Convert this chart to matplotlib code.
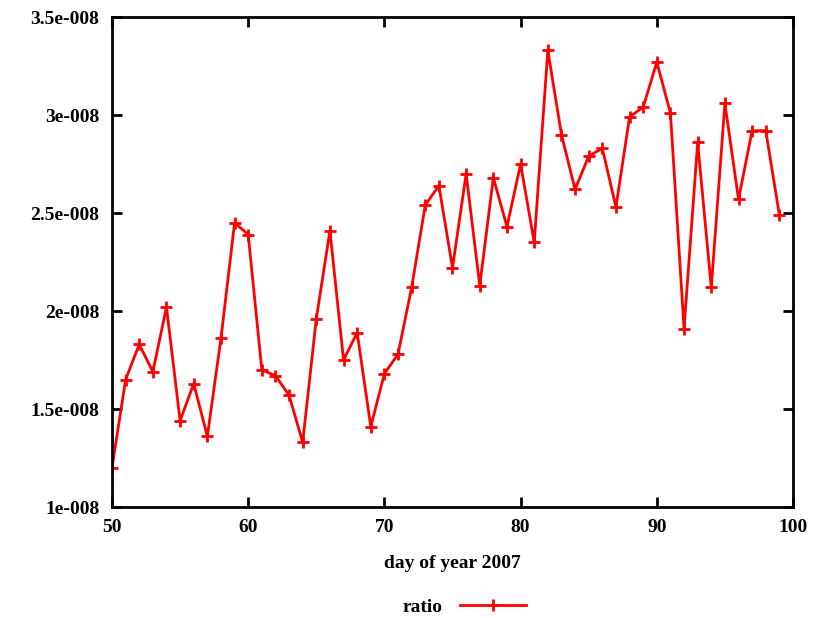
import numpy as np
import matplotlib
matplotlib.use("Agg")
import matplotlib.pyplot as plt
from matplotlib.ticker import FuncFormatter

# day of year and ratio values (units of 1e-8)
days = list(range(50, 100))
ratio = [1.20, 1.65, 1.83, 1.69, 2.02, 1.44, 1.63, 1.36, 1.86, 2.45,
         2.39, 1.70, 1.67, 1.57, 1.33, 1.96, 2.41, 1.75, 1.89, 1.41,
         1.68, 1.78, 2.12, 2.54, 2.64, 2.22, 2.70, 2.13, 2.68, 2.43,
         2.75, 2.35, 3.33, 2.90, 2.62, 2.79, 2.83, 2.53, 2.99, 3.04,
         3.27, 3.01, 1.91, 2.86, 2.12, 3.06, 2.57, 2.92, 2.92, 2.49]
ratio = np.array(ratio) * 1e-8

plt.rcParams['font.family'] = ['Liberation Serif', 'DejaVu Serif']
plt.rcParams['font.weight'] = 'bold'
plt.rcParams['font.size'] = 14

fig = plt.figure(figsize=(8.2, 6.18), dpi=100)
ax = fig.add_axes([112/820, 111/618, (793-112)/820, (507-17)/618])

line, = ax.plot(days, ratio, color='red', linewidth=2, marker='+',
                markersize=9, markeredgewidth=2, label='ratio')

ax.set_xlim(50, 100)
ax.set_ylim(1e-8, 3.5e-8)
ax.set_xticks(np.arange(50, 101, 10))
ax.set_yticks(np.arange(1e-8, 3.51e-8, 0.5e-8))


def fmt(v, pos):
    m = v / 1e-8
    s = ('%g' % round(m, 2))
    return s + 'e-008'


ax.yaxis.set_major_formatter(FuncFormatter(fmt))
ax.tick_params(direction='in', length=7, width=2, top=True, right=True,
               labelsize=14, pad=9)
for sp in ax.spines.values():
    sp.set_linewidth(2)

ax.set_xlabel('day of year 2007', fontsize=14, fontweight='bold', labelpad=13)

fig.legend(handles=[line], loc='center', bbox_to_anchor=(0.566, 0.018),
           frameon=False, markerfirst=False, handlelength=3.4,
           handletextpad=0.9, fontsize=14)

fig.savefig('out.png', dpi=100, facecolor='white')
